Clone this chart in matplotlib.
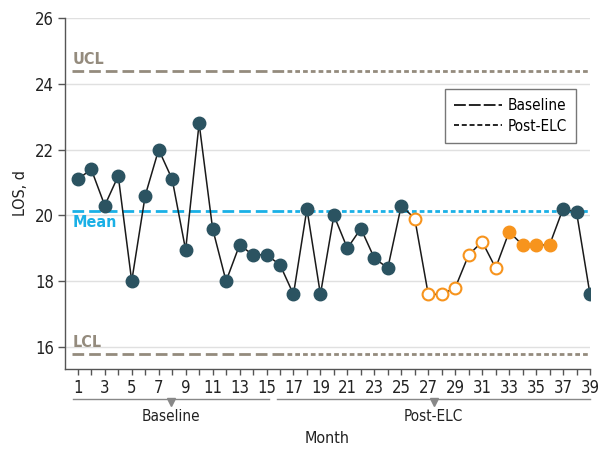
import numpy as np
import matplotlib
matplotlib.use("Agg")
import matplotlib.pyplot as plt
import matplotlib.transforms as mtransforms
from matplotlib.lines import Line2D

plt.rcParams['font.family'] = ['DejaVu Sans']
plt.rcParams['font.stretch'] = 'condensed'
plt.rcParams['lines.scale_dashes'] = False

# data
months = list(range(1, 40))
los = [21.1, 21.4, 20.3, 21.2, 18.0, 20.6, 22.0, 21.1, 18.95, 22.8,
       19.6, 18.0, 19.1, 18.8, 18.8, 18.5, 17.6, 20.2, 17.6, 20.0,
       19.0, 19.6, 18.7, 18.4, 20.3, 19.9, 17.6, 17.6, 17.8, 18.8,
       19.2, 18.4, 19.5, 19.1, 19.1, 19.1, 20.2, 20.1, 17.6]
# 'd' = dark filled, 'o' = orange open, 'f' = orange filled
status = ['d'] * 25 + ['o'] * 7 + ['f'] * 4 + ['d'] * 3
ucl = 24.4
lcl = 15.8
mean = 20.12
split = 16.5  # baseline / post-ELC boundary
periods = ['Baseline', 'Post-ELC']
period_span = [(0.63, 15.2), (15.8, 39.0)]

dark = '#2b5361'
orange = '#f7941d'
cyan = '#1ab0e6'
limit_col = '#948b7d'
long_dash = (8.4, 3.6)
short_dash = (3.4, 2.2)
fs = 11

fig = plt.figure(figsize=(6.03, 4.51), dpi=100)
ax = fig.add_axes([65/603, 1-369/451, 525/603, 351/451])
ax.set_xlim(0.05, 39)
ax.set_ylim(15.33, 26)

for y in range(16, 27, 2):
    ax.axhline(y, color='#e0e0e0', lw=1.0, zorder=0)

# control limits and mean: long dashes for baseline, short after
for val, col in [(ucl, limit_col), (lcl, limit_col), (mean, cyan)]:
    ax.plot([0.6, split], [val, val], color=col, lw=2.0, dashes=long_dash, zorder=1)
    ax.plot([split, 39], [val, val], color=col, lw=2.0, dashes=short_dash, zorder=1)

ax.text(0.6, ucl + 0.12, 'UCL', color=limit_col, fontsize=11.5, fontweight='semibold', va='bottom')
ax.text(0.6, lcl + 0.12, 'LCL', color=limit_col, fontsize=11.5, fontweight='semibold', va='bottom')
ax.text(0.6, mean - 0.12, 'Mean', color=cyan, fontsize=11.5, fontweight='semibold', va='top')

ax.plot(months, los, color='#1a1a1a', lw=1.1, zorder=2)
m = np.array(months)
v = np.array(los)
s = np.array(status)
ax.plot(m[s == 'd'], v[s == 'd'], 'o', ms=9, color=dark, zorder=3)
ax.plot(m[s == 'f'], v[s == 'f'], 'o', ms=9, color=orange, zorder=3)
ax.plot(m[s == 'o'], v[s == 'o'], 'o', ms=8.5, mfc='white', mec=orange, mew=1.5, zorder=3)

for side in ['top', 'right']:
    ax.spines[side].set_visible(False)
for side in ['left', 'bottom']:
    ax.spines[side].set_color('#555555')
    ax.spines[side].set_linewidth(1.0)

ax.set_yticks(range(16, 27, 2))
ax.set_xticks(months)
ax.set_xticklabels([str(x) if x % 2 == 1 else '' for x in months])
ax.tick_params(axis='both', labelsize=fs + 1, colors='#222222', width=1, pad=3)
ax.tick_params(axis='both', color='#555555')
ax.tick_params(axis='x', length=4)
ax.tick_params(axis='y', length=5)
ax.set_ylabel('LOS, d', fontsize=fs + 0.5, color='#222222', labelpad=5)
ax.set_xlabel('Month', fontsize=fs + 0.5, color='#222222', labelpad=25)

# period brackets under the axis
trans = mtransforms.blended_transform_factory(ax.transData, ax.transAxes)
for name, (x0, x1) in zip(periods, period_span):
    xc = (x0 + x1) / 2
    ax.plot([x0, x1], [-0.085, -0.085], color='#888888', lw=1.0, transform=trans, clip_on=False)
    ax.plot([xc], [-0.094], marker='v', ms=6, color='#888888', transform=trans, clip_on=False)
    ax.text(xc, -0.115, name, fontsize=fs, color='#222222', ha='center', va='top',
            transform=trans)

handles = [Line2D([], [], color='black', lw=1.2, dashes=(8.5, 2.2)),
           Line2D([], [], color='black', lw=1.2, dashes=(3.6, 2.0))]
leg = ax.legend(handles, periods, loc='upper left', bbox_to_anchor=(380/525, 1-71/351),
                fontsize=fs, frameon=True, fancybox=False, handlelength=3.1,
                borderpad=0.6, labelspacing=0.35, handletextpad=0.4, borderaxespad=0)
leg.get_frame().set_edgecolor('#555555')
leg.get_frame().set_linewidth(1.0)

fig.savefig('out.png', dpi=100)
